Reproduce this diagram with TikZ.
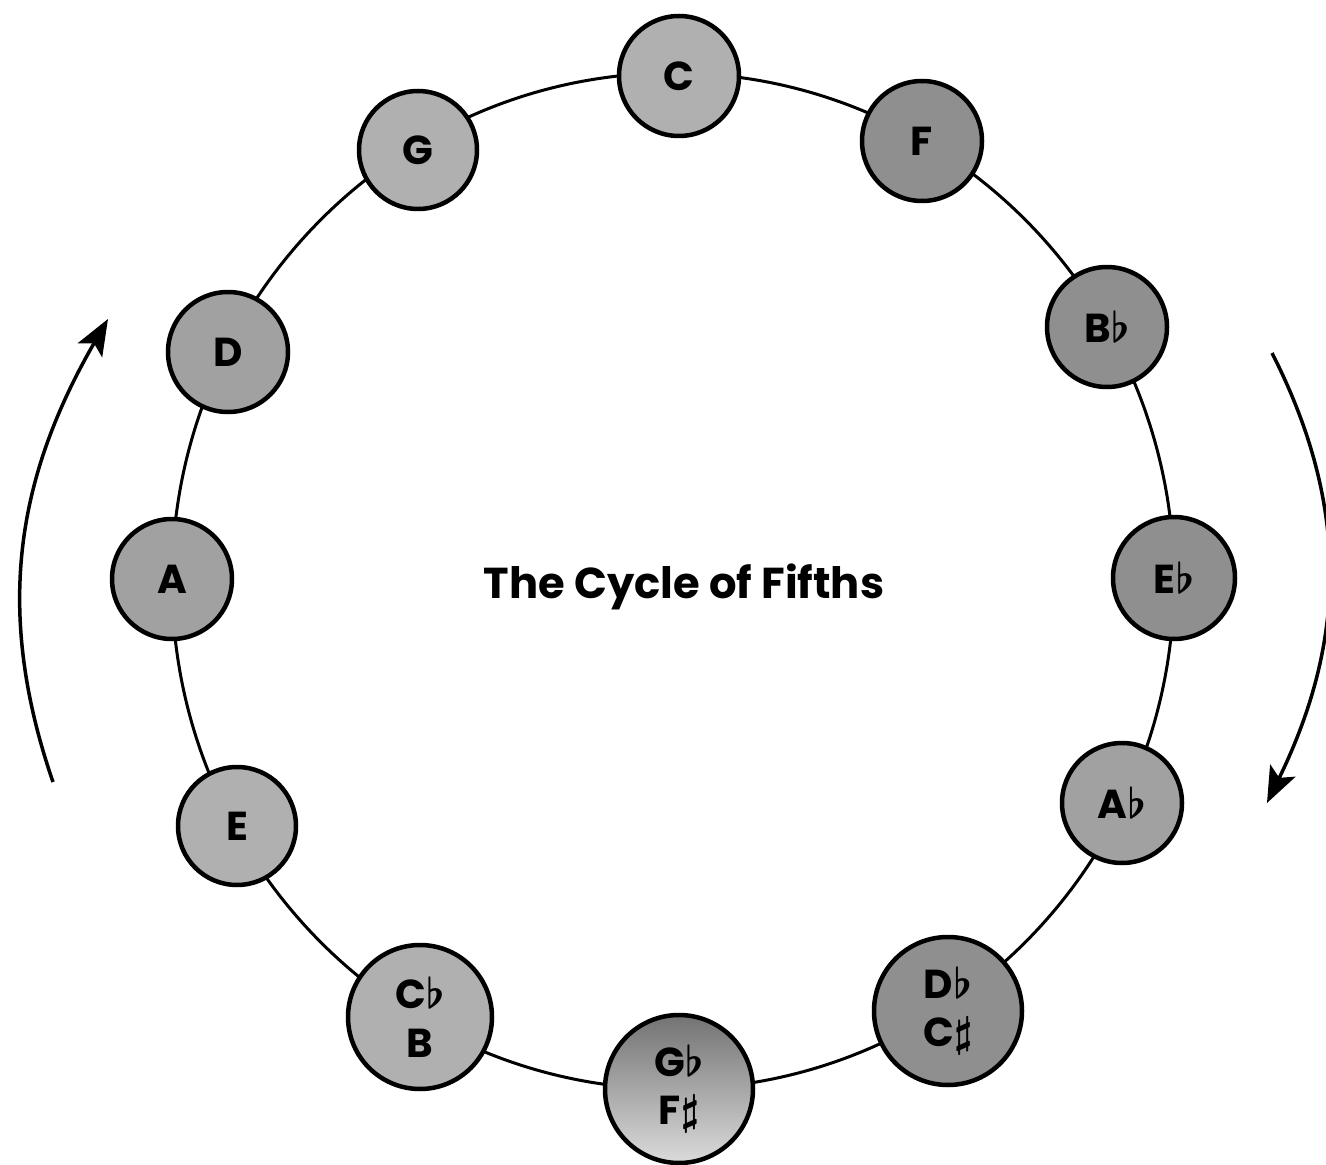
\documentclass[tikz,border=0pt]{standalone}
\usepackage{fontspec}
\setsansfont{Poppins}
\usepackage{tikz}
\usetikzlibrary{arrows.meta}
\colorlet{lightkey}{black!31}
\colorlet{midkey}{black!37}
\colorlet{darkkey}{black!44}
\newcommand{\flt}{{\boldmath$\flat$}}
\newcommand{\shp}{{\boldmath$\sharp$}}

\begin{document}
\begin{tikzpicture}[x=0.1mm, y=0.1mm, >={Stealth[length=3.6mm,width=2.8mm,inset=0.8mm]},
  keycirc/.style={circle, draw, line width=0.45mm, inner sep=0pt, align=center,
    font=\sffamily\bfseries\fontsize{11.5}{13.8}\selectfont}]
  \useasboundingbox (0,0) rectangle (1326,1164);
  % ring of keys
  \coordinate (ctr) at (673,583);
  \draw[line width=0.3mm] (ctr) ellipse [x radius=501, y radius=508];
  \foreach \nm/\x/\y/\dia/\fl/\txt in {C/679/1088/12/lightkey/C, F/922/1023/12/darkkey/F,
      Bb/1107/837/12/darkkey/{B\flt}, Eb/1174/586/12.2/darkkey/{E\flt},
      Ab/1122/361/12/midkey/{A\flt}, Db/948/153/14.8/darkkey/{D\flt\\C\shp},
      Cb/420/147/14.4/lightkey/{C\flt\\B}, E/237/338/11.8/lightkey/E,
      A/172/585/12/midkey/A, D/228/812/12/midkey/D, G/418/1014/11.8/lightkey/G} {
    \node[keycirc, fill=\fl, minimum size=\dia mm] (\nm) at (\x,\y) {\txt};
  }
  \node[keycirc, top color=black!55, bottom color=black!14, minimum size=14.8mm] (Gb) at (679,75)
    {G\flt\\F\shp};
  \node[anchor=base, font=\sffamily\bfseries\fontsize{12.3}{14}\selectfont] (title) at (684,566)
    {The Cycle of Fifths};
  % direction arrows
  \coordinate (lft0) at (53,382);
  \coordinate (lft1) at (108,845);
  \draw[->, line width=0.35mm] (lft0) to[out=109, in=240] (lft1);
  \coordinate (rgt0) at (1272,811);
  \coordinate (rgt1) at (1267,361);
  \draw[->, line width=0.35mm] (rgt0) to[out=-63, in=64] (rgt1);
\end{tikzpicture}
\end{document}
